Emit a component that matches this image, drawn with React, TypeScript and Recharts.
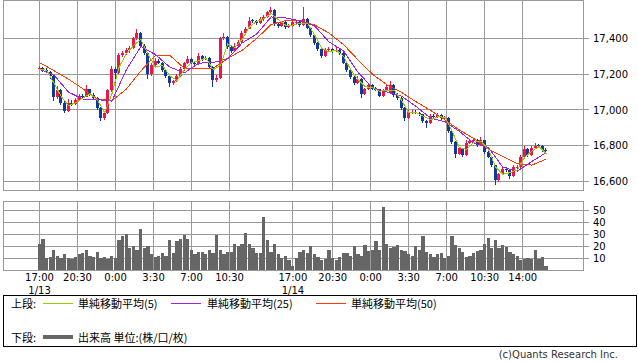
import { Bar, CartesianGrid, ComposedChart, Line, ReferenceArea, XAxis, YAxis } from "recharts";

// 20-minute bars, 1/13 17:00 -> 1/15 afternoon
const opens = [
  17228, 17235, 17225, 17215, 17190, 17070, 17110, 17040, 16995, 17040,
  17035, 17055, 17080, 17075, 17115, 17085, 17065, 17010, 16955, 16985,
  17110, 17230, 17205, 17310, 17320, 17335, 17345, 17400, 17430, 17360,
  17320, 17200, 17250, 17275, 17265, 17225, 17190, 17150, 17160, 17190,
  17230, 17260, 17285, 17265, 17255, 17300, 17285, 17290, 17240, 17165,
  17180, 17400, 17410, 17350, 17330, 17360, 17380, 17430, 17455, 17505,
  17500, 17485, 17510, 17520, 17545, 17560, 17480, 17470, 17490, 17465,
  17470, 17485, 17490, 17475, 17510, 17460, 17420, 17375, 17340, 17300,
  17335, 17340, 17330, 17335, 17320, 17265, 17225, 17185, 17150, 17175,
  17090, 17115, 17140, 17120, 17115, 17080, 17110, 17095, 17140, 17085,
  17065, 17010, 16955, 16985, 16990, 16985, 16975, 16940, 16925, 16965,
  16960, 16970, 16950, 16955, 16880, 16820, 16755, 16785, 16750, 16815,
  16825, 16835, 16805, 16830, 16765, 16740, 16690, 16610, 16640, 16670,
  16665, 16630, 16675, 16680, 16735, 16780, 16750, 16790, 16805, 16800,
  16775,
];
const highs = [
  17245, 17240, 17232, 17220, 17195, 17135, 17120, 17050, 17060, 17055,
  17065, 17090, 17090, 17140, 17120, 17095, 17070, 17015, 16995, 17120,
  17245, 17240, 17320, 17330, 17345, 17355, 17410, 17450, 17435, 17370,
  17325, 17260, 17290, 17285, 17270, 17230, 17195, 17170, 17200, 17240,
  17270, 17300, 17290, 17275, 17320, 17305, 17300, 17295, 17245, 17195,
  17410, 17430, 17415, 17360, 17375, 17390, 17440, 17465, 17520, 17510,
  17505, 17520, 17530, 17555, 17577, 17565, 17490, 17500, 17495, 17480,
  17500, 17500, 17495, 17577, 17515, 17465, 17425, 17380, 17345, 17345,
  17350, 17345, 17350, 17340, 17325, 17270, 17230, 17190, 17190, 17180,
  17125, 17150, 17145, 17130, 17120, 17120, 17140, 17160, 17145, 17095,
  17070, 17015, 17000, 17000, 17000, 16990, 16980, 16945, 16975, 16975,
  16985, 16975, 16965, 16960, 16885, 16825, 16795, 16790, 16835, 16835,
  16845, 16840, 16850, 16835, 16770, 16745, 16695, 16650, 16685, 16680,
  16670, 16690, 16690, 16750, 16800, 16785, 16800, 16815, 16810, 16805,
  16790,
];
const lows = [
  17222, 17215, 17205, 17175, 17050, 17060, 17030, 16985, 16990, 17020,
  17030, 17050, 17065, 17070, 17080, 17055, 17000, 16940, 16945, 16980,
  17100, 17150, 17200, 17295, 17310, 17320, 17340, 17390, 17350, 17310,
  17175, 17190, 17240, 17255, 17215, 17180, 17130, 17140, 17155, 17185,
  17220, 17255, 17255, 17245, 17250, 17275, 17280, 17230, 17130, 17155,
  17175, 17390, 17340, 17320, 17325, 17350, 17375, 17420, 17450, 17485,
  17475, 17480, 17500, 17515, 17540, 17470, 17460, 17465, 17455, 17460,
  17465, 17480, 17465, 17470, 17450, 17410, 17365, 17330, 17290, 17295,
  17325, 17320, 17325, 17310, 17255, 17215, 17175, 17140, 17145, 17065,
  17085, 17110, 17110, 17105, 17070, 17075, 17105, 17090, 17070, 17055,
  17000, 16940, 16950, 16980, 16975, 16965, 16930, 16900, 16920, 16950,
  16955, 16945, 16945, 16870, 16810, 16730, 16750, 16740, 16745, 16810,
  16820, 16795, 16800, 16755, 16730, 16680, 16580, 16600, 16635, 16655,
  16615, 16625, 16670, 16675, 16730, 16740, 16745, 16785, 16790, 16765,
  16760,
];
const closes = [
  17235, 17225, 17215, 17190, 17070, 17110, 17040, 16995, 17040, 17035,
  17055, 17080, 17075, 17115, 17085, 17065, 17010, 16955, 16985, 17110,
  17230, 17205, 17310, 17320, 17335, 17345, 17400, 17430, 17360, 17320,
  17200, 17250, 17275, 17265, 17225, 17190, 17150, 17160, 17190, 17230,
  17260, 17285, 17265, 17255, 17300, 17285, 17290, 17240, 17165, 17180,
  17400, 17410, 17350, 17330, 17360, 17380, 17430, 17455, 17500, 17500,
  17485, 17510, 17520, 17545, 17560, 17480, 17470, 17490, 17465, 17470,
  17490, 17490, 17475, 17510, 17460, 17420, 17375, 17340, 17300, 17335,
  17340, 17330, 17335, 17320, 17265, 17225, 17185, 17150, 17175, 17090,
  17115, 17140, 17120, 17115, 17080, 17110, 17130, 17140, 17085, 17065,
  17010, 16955, 16990, 16990, 16985, 16975, 16940, 16925, 16965, 16960,
  16970, 16955, 16955, 16880, 16820, 16755, 16785, 16750, 16815, 16825,
  16835, 16805, 16830, 16765, 16740, 16690, 16610, 16640, 16670, 16665,
  16630, 16680, 16680, 16735, 16780, 16750, 16790, 16800, 16800, 16775,
  16770,
];
const volumes = [
  22, 26, 10, 11, 17, 12, 10, 13, 10, 9,
  11, 13, 14, 17, 12, 11, 15, 10, 11, 9,
  12, 10, 25, 28, 30, 18, 20, 17, 34, 18,
  20, 13, 11, 12, 14, 12, 25, 14, 24, 26,
  29, 26, 17, 13, 15, 15, 13, 17, 14, 29,
  17, 13, 15, 15, 22, 20, 22, 31, 22, 18,
  14, 14, 44, 25, 15, 22, 13, 10, 12, 8,
  3, 10, 15, 17, 14, 20, 13, 11, 8, 9,
  17, 10, 8, 11, 14, 14, 12, 20, 13, 12,
  21, 16, 17, 24, 17, 53, 22, 18, 19, 21,
  17, 16, 13, 12, 20, 17, 28, 15, 13, 11,
  13, 14, 10, 12, 28, 21, 18, 15, 11, 12,
  14, 16, 17, 22, 27, 18, 25, 18, 21, 19,
  15, 13, 12, 8, 9, 10, 9, 17, 9, 11,
  3,
];

// moving averages: ma5 every 2nd bar, ma25 / ma50 every 4th bar
const ma5 = [
  17228, 17222, 17150, 17075, 17025, 17040, 17068, 17090, 17055, 16985,
  17090, 17240, 17315, 17360, 17395, 17310, 17240, 17250, 17190, 17165,
  17225, 17265, 17275, 17290, 17225, 17250, 17370, 17350, 17395, 17465,
  17495, 17510, 17540, 17505, 17475, 17475, 17485, 17485, 17420, 17345,
  17325, 17335, 17300, 17225, 17170, 17130, 17125, 17105, 17110, 17110,
  17055, 16985, 16985, 16965, 16945, 16962, 16960, 16880, 16790, 16780,
  16820, 16825, 16780, 16680, 16640, 16650, 16665, 16735, 16770, 16795,
  16755,
];
const ma25 = [
  17227, 17195, 17100, 17061, 17058, 17050, 17225, 17355, 17310, 17240,
  17207, 17262, 17265, 17287, 17375, 17425, 17520, 17515, 17498, 17470,
  17380, 17330, 17210, 17125, 17100, 17078, 17020, 16955, 16935, 16880,
  16815, 16790, 16680, 16658, 16712, 16762,
];
const ma50 = [
  17265, 17220, 17172, 17118, 17062, 17052, 17117, 17218, 17305, 17305,
  17233, 17233, 17233, 17288, 17334, 17400, 17478, 17500, 17500, 17475,
  17430, 17365, 17280, 17200, 17140, 17098, 17046, 16998, 16945, 16888,
  16840, 16780, 16740, 16700, 16692, 16725,
];

const tickPos = [0, 10.5, 21, 31.5, 42, 52.5, 70, 81, 91.5, 102, 112.5, 123, 133.5];
const tickTimes = ["17:00", "20:30", "0:00", "3:30", "7:00", "10:30", "17:00", "20:30", "0:00", "3:30", "7:00", "10:30", "14:00"];
const tickDates = ["1/13", "", "", "", "", "", "1/14", "", "", "", "", "", ""];
const priceTicks = [16600, 16800, 17000, 17200, 17400];
const volTicks = [10, 20, 30, 40, 50];

const X_MIN = -9.95;
const X_MAX = 150.14;
const P_MIN = 16550;
const P_MAX = 17612;
const V_MAX = 57.2;

const FONT = '"Noto Sans CJK JP", "DejaVu Sans", sans-serif';
const AXIS_FONT = '"DejaVu Sans", sans-serif';
const UP = "#f0144a";
const DOWN = "#10389f";
const C5 = "#99cc00";
const C25 = "#a020f0";
const C50 = "#ff3c00";
const GRID = "#999999";
const VOL = "#666666";

const rows = closes.map((c, i) => ({
  i,
  o: opens[i],
  h: highs[i],
  l: lows[i],
  c,
  range: [lows[i], highs[i]],
  vol: volumes[i],
  ma5: i % 2 === 0 ? ma5[i / 2] : null,
  ma25: i % 4 === 0 ? ma25[i / 4] : null,
  ma50: i % 4 === 0 ? ma50[i / 4] : null,
}));

function Candle(props: any) {
  const { x, y, width, height, payload } = props;
  if (x == null || !payload) return null;
  const { o, h, l, c } = payload;
  const top0 = Math.min(y, y + height);
  const hgt = Math.abs(height);
  const span = h - l || 1;
  const py = (v: number) => top0 + ((h - v) / span) * hgt;
  const color = c >= o ? UP : DOWN;
  const bTop = py(Math.max(o, c));
  const bBot = py(Math.min(o, c));
  const cx = x + width / 2;
  return (
    <g>
      <line x1={cx} x2={cx} y1={top0} y2={top0 + hgt} stroke={color} strokeWidth={1} />
      <rect x={x} y={bTop} width={width} height={Math.max(bBot - bTop, 1)} fill={color} />
    </g>
  );
}

function TimeTick({ x, y, payload }: any) {
  const k = tickPos.indexOf(payload.value);
  return (
    <g>
      <text x={x} y={y + 11} textAnchor="middle" fontSize={10} fontFamily={AXIS_FONT} fill="#000">
        {tickTimes[k]}
      </text>
      {tickDates[k] ? (
        <text x={x} y={y + 24} textAnchor="middle" fontSize={10} fontFamily={AXIS_FONT} fill="#000">
          {tickDates[k]}
        </text>
      ) : null}
    </g>
  );
}

const axisTick = { fill: "#000", fontSize: 10, fontFamily: AXIS_FONT };

function LegendLine({ left, top, color, thick }: { left: number; top: number; color: string; thick: number }) {
  return (
    <div style={{ position: "absolute", left, top, width: 30, height: thick, background: color }} />
  );
}

function Label({ left, top, children }: { left: number; top: number; children: any }) {
  return (
    <span style={{ position: "absolute", left, top, lineHeight: "14px", fontSize: 11, whiteSpace: "nowrap" }}>
      {children}
    </span>
  );
}

export default function App() {
  return (
    <div
      style={{
        position: "relative",
        width: 638,
        height: 362,
        overflow: "hidden",
        background: "#fff",
        fontFamily: FONT,
        color: "#000",
        shapeRendering: "crispEdges",
      }}
    >
      <style>{"body{margin:0}"}</style>

      <div style={{ position: "absolute", left: 0, top: 0 }}>
        <ComposedChart width={638} height={191} data={rows} margin={{ top: 0.5, right: 0, bottom: 0.5, left: 3.5 }}>
          <CartesianGrid stroke={GRID} />
          <XAxis type="number" dataKey="i" domain={[X_MIN, X_MAX]} ticks={tickPos} interval={0} hide />
          <YAxis
            orientation="right"
            domain={[P_MIN, P_MAX]}
            ticks={priceTicks}
            interval={0}
            width={55}
            axisLine={false}
            tickLine={{ stroke: GRID }}
            tickSize={6}
            tickMargin={4}
            tick={axisTick}
            tickFormatter={(v: number) => v.toLocaleString("en-US")}
          />
          <Bar dataKey="range" barSize={3} shape={<Candle />} isAnimationActive={false} />
          <Line dataKey="ma50" stroke={C50} strokeWidth={1} dot={false} connectNulls isAnimationActive={false} />
          <Line dataKey="ma25" stroke={C25} strokeWidth={1} dot={false} connectNulls isAnimationActive={false} />
          <Line dataKey="ma5" stroke={C5} strokeWidth={1} dot={false} connectNulls isAnimationActive={false} />
          <ReferenceArea x1={X_MIN} x2={X_MAX} y1={P_MIN} y2={P_MAX} fill="none" stroke={GRID} strokeWidth={1} />
        </ComposedChart>
      </div>

      <div style={{ position: "absolute", left: 0, top: 190 }}>
        <ComposedChart width={638} height={110} data={rows} margin={{ top: 11.5, right: 0, bottom: 0, left: 3.5 }}>
          <CartesianGrid stroke={GRID} />
          <XAxis
            type="number"
            dataKey="i"
            domain={[X_MIN, X_MAX]}
            ticks={tickPos}
            interval={0}
            height={30}
            axisLine={false}
            tickLine={false}
            tickSize={0}
            tickMargin={0}
            tick={<TimeTick />}
          />
          <YAxis
            orientation="right"
            domain={[0, V_MAX]}
            ticks={volTicks}
            interval={0}
            width={55}
            axisLine={false}
            tickLine={{ stroke: GRID }}
            tickSize={6}
            tickMargin={4}
            tick={axisTick}
          />
          <Bar dataKey="vol" fill={VOL} barSize={4} isAnimationActive={false} />
          <ReferenceArea x1={X_MIN} x2={X_MAX} y1={0} y2={V_MAX} fill="none" stroke={GRID} strokeWidth={1} />
        </ComposedChart>
      </div>

      <div
        style={{
          position: "absolute",
          left: 3,
          top: 295,
          width: 634,
          height: 52,
          boxSizing: "border-box",
          border: "1px solid #000",
        }}
      />
      <Label left={11} top={296}>上段:</Label>
      <LegendLine left={43} top={303} color={C5} thick={1} />
      <Label left={78} top={296}>単純移動平均(5)</Label>
      <LegendLine left={171} top={303} color={C25} thick={1} />
      <Label left={207} top={296}>単純移動平均(25)</Label>
      <LegendLine left={316} top={303} color={C50} thick={1} />
      <Label left={351} top={296}>単純移動平均(50)</Label>

      <Label left={11} top={330}>下段:</Label>
      <LegendLine left={43} top={335} color={VOL} thick={4} />
      <Label left={78} top={330}>出来高 単位:(株/口/枚)</Label>

      <div
        style={{
          position: "absolute",
          right: 20,
          top: 349,
          lineHeight: "12px",
          height: 12,
          fontSize: 10,
          fontFamily: AXIS_FONT,
          color: "#333",
          whiteSpace: "nowrap",
        }}
      >
        (c)Quants Research Inc.
      </div>
    </div>
  );
}
